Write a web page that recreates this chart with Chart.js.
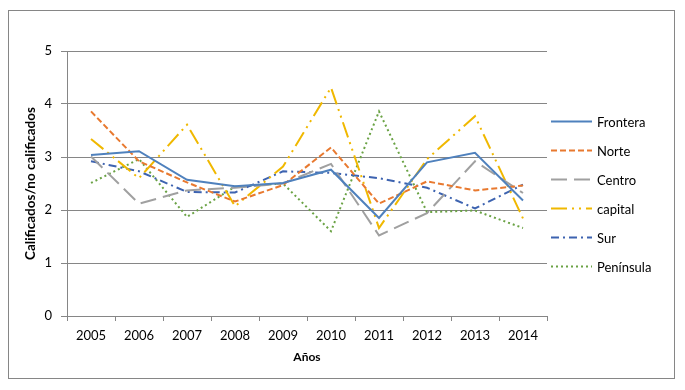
<!DOCTYPE html>
<html>
<head>
<meta charset="utf-8">
<script src="https://cdn.jsdelivr.net/npm/chart.js@4"></script>
<style>
  html, body { margin: 0; padding: 0; background: #fff; }
  #wrap { width: 685px; height: 390px; }
</style>
</head>
<body>
<div id="wrap"><canvas id="chart" width="685" height="390"></canvas></div>
<script>
// data
const years = ["2005","2006","2007","2008","2009","2010","2011","2012","2013","2014"];
const frontera  = [3.04, 3.11, 2.57, 2.45, 2.51, 2.76, 1.85, 2.90, 3.08, 2.18];
const norte     = [3.86, 2.92, 2.52, 2.16, 2.47, 3.18, 2.12, 2.54, 2.37, 2.46];
const centro    = [3.01, 2.12, 2.37, 2.42, 2.50, 2.87, 1.52, 1.94, 2.92, 2.32];
const capital   = [3.34, 2.60, 3.61, 2.07, 2.82, 4.31, 1.66, 2.96, 3.77, 1.84];
const sur       = [2.92, 2.73, 2.34, 2.33, 2.73, 2.70, 2.60, 2.42, 2.03, 2.48];
const peninsula = [2.51, 2.96, 1.87, 2.44, 2.50, 1.60, 3.86, 1.96, 1.99, 1.66];

const FONT = "Lato, 'Open Sans', sans-serif";
const GRID = "#868686";

function line(label, data, color, dash) {
  return {
    label: label, data: data,
    borderColor: color, backgroundColor: color,
    borderWidth: 2, borderDash: dash,
    pointRadius: 0, tension: 0, fill: false
  };
}

// chart border + legend drawn like the Excel original
const frame = {
  id: "frame",
  beforeDraw(chart) {
    const c = chart.ctx;
    c.save();
    c.fillStyle = "#fff";
    c.fillRect(0, 0, chart.width, chart.height);
    c.strokeStyle = GRID;
    c.lineWidth = 1;
    c.strokeRect(8.5, 10.5, 666, 368);
    c.restore();
  },
  afterDraw(chart) {
    const c = chart.ctx;
    c.save();
    c.font = "13px " + FONT;
    c.textBaseline = "middle";
    chart.data.datasets.forEach((ds, i) => {
      const y = 121.5 + i * 29;
      c.strokeStyle = ds.borderColor;
      c.lineWidth = 2;
      c.setLineDash(ds.borderDash || []);
      c.beginPath();
      c.moveTo(551, y);
      c.lineTo(592, y);
      c.stroke();
      c.setLineDash([]);
      c.fillStyle = "#000";
      c.fillText(ds.label, 597, y + 1);
    });
    c.restore();
  }
};

new Chart(document.getElementById("chart"), {
  type: "line",
  data: {
    labels: years,
    datasets: [
      line("Frontera", frontera, "#4f81bd", []),
      line("Norte", norte, "#e8792f", [6, 3]),
      line("Centro", centro, "#a0a0a0", [16, 7]),
      line("capital", capital, "#f0b800", [16, 5, 2, 5, 2, 5]),
      line("Sur", sur, "#3d63b0", [8, 4, 2, 4]),
      line("Península", peninsula, "#6aa244", [2, 3])
    ]
  },
  options: {
    responsive: false,
    animation: false,
    layout: { padding: { left: 0, top: 51, right: 138, bottom: 0 } },
    plugins: {
      legend: { display: false },
      tooltip: { enabled: false }
    },
    scales: {
      x: {
        offset: true,
        grid: { offset: true, drawOnChartArea: false, drawTicks: true, tickLength: 5, color: GRID },
        border: { color: GRID },
        ticks: { color: "#000", font: { family: FONT, size: 13 }, padding: 7, maxRotation: 0 },
        title: { display: true, text: "Años", color: "#000", font: { family: FONT, size: 12, weight: "bold" }, padding: { top: 4, bottom: 26 } },
        afterFit(s) { s.height = 74; }
      },
      y: {
        min: 0, max: 5,
        ticks: { stepSize: 1, color: "#000", font: { family: FONT, size: 13 }, padding: 9 },
        grid: { color: GRID, tickLength: 6 },
        border: { color: GRID },
        title: { display: true, text: "Calificados/no calificados", color: "#000", font: { family: FONT, size: 13.5, weight: "bold" }, padding: { top: 23, bottom: 4 } },
        afterFit(s) { s.width = 67; }
      }
    }
  },
  plugins: [frame]
});
</script>
</body>
</html>
